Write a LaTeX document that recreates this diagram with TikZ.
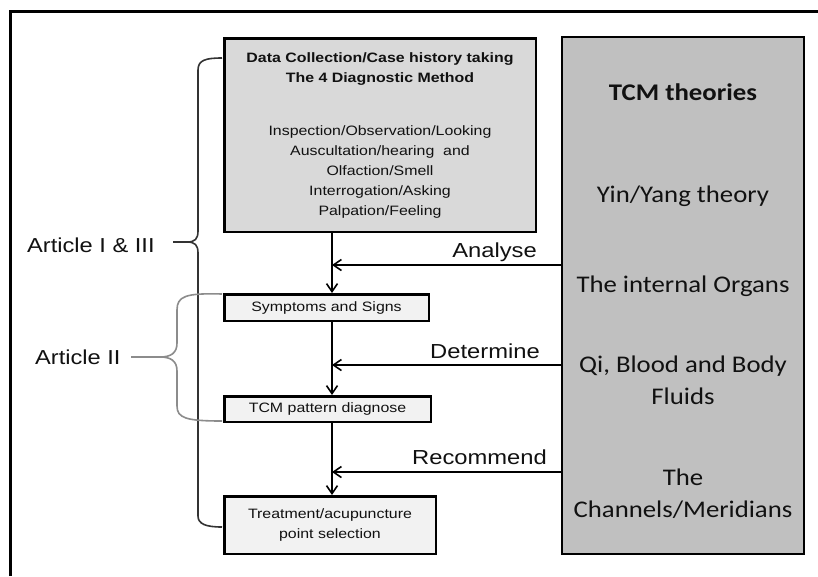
\documentclass[tikz,border=0pt]{standalone}
\usepackage{fontspec}
\setmainfont{Liberation Sans}[FakeStretch=1.17]
\newfontfamily\calw{Carlito}[FakeStretch=1.12]
\usetikzlibrary{arrows.meta}
\definecolor{boxtop}{HTML}{D9D9D9}
\definecolor{boxsmall}{HTML}{F2F2F2}
\definecolor{boxtheory}{HTML}{C0C0C0}
\definecolor{bracedark}{HTML}{333333}
\definecolor{bracegray}{HTML}{8C8C8C}
\definecolor{txt}{HTML}{111111}
\begin{document}
\begin{tikzpicture}[x=1pt,y=-1pt,
  flowbox/.style={draw=black, line width=2.5pt, inner sep=0pt, text=txt,
    font=\fontsize{13.6}{20}\selectfont, align=center},
  theorybox/.style={draw=black, line width=2pt, fill=boxtheory, inner sep=0pt},
  theorytxt/.style={anchor=base, inner sep=0pt, text=txt, font=\calw\fontsize{23.9}{32}\selectfont},
  arrlabel/.style={anchor=base east, inner sep=0pt, text=txt, font=\fontsize{20.3}{24}\selectfont},
  artlabel/.style={anchor=base west, inner sep=0pt, text=txt, font=\fontsize{20.2}{24}\selectfont},
  arr/.style={line width=1.6pt, draw=black, -{Straight Barb[length=8pt,width=11pt,line width=1.6pt]}},
  bracebig/.style={line width=1.6pt, draw=bracedark},
  bracesmall/.style={line width=1.6pt, draw=bracegray}
]
\useasboundingbox (0,0) rectangle (818,576);
\fill[white] (0,0) rectangle (818,576);
% outer frame (only left and top visible)
\draw[line width=2.5pt, black] (10.5,576) -- (10.5,11.3) -- (818,11.3);

% flow boxes
\node[flowbox, fill=boxtop, minimum width=311.5pt, minimum height=193.5pt] (top) at (380,135) {};
\node[text=txt, inner sep=0pt, align=center, font=\fontsize{13.6}{20}\selectfont] (toptxt) at (380,135.5)
  {\textbf{Data Collection/Case history taking}\\
   \textbf{The 4 Diagnostic Method}\\[33pt]
   Inspection/Observation/Looking\\
   Auscultation/hearing\ \ and\\
   Olfaction/Smell\\
   Interrogation/Asking\\
   Palpation/Feeling};
\node[flowbox, fill=boxsmall, minimum width=204.5pt, minimum height=26.5pt] (sym) at (326.5,307.5) {Symptoms and Signs};
\node[flowbox, fill=boxsmall, minimum width=206.5pt, minimum height=25.5pt] (tcm) at (327.5,409) {TCM pattern diagnose};
\node[flowbox, fill=boxsmall, minimum width=211.5pt, minimum height=57.5pt] (treat) at (330,525) {Treatment/acupuncture\\point selection};

% theory box
\node[theorybox, minimum width=242pt, minimum height=517pt] (gray) at (683,295.5) {};
\node[theorytxt] (t1) at (683,100) {\bfseries TCM theories};
\node[theorytxt] (t2) at (683,202) {Yin/Yang theory};
\node[theorytxt] (t3) at (683,292) {The internal Organs};
\node[theorytxt] (t4a) at (683,372) {Qi, Blood and Body};
\node[theorytxt] (t4b) at (683,404) {Fluids};
\node[theorytxt] (t5a) at (683,485) {The};
\node[theorytxt] (t5b) at (683,517) {Channels/Meridians};

% spine and arrow rows
\coordinate (spine) at (332,0);
\coordinate (ya) at (0,265);
\coordinate (yd) at (0,365);
\coordinate (yr) at (0,472);
\draw[arr] (top.south -| spine) -- (sym.north -| spine);
\draw[arr] (sym.south -| spine) -- (tcm.north -| spine);
\draw[arr] (tcm.south -| spine) -- (treat.north -| spine);
\draw[arr] (gray.west |- ya) -- (spine |- ya);
\draw[arr] (gray.west |- yd) -- (spine |- yd);
\draw[arr] (gray.west |- yr) -- (spine |- yr);
\node[arrlabel] (lA) at (537,257) {Analyse};
\node[arrlabel] (lD) at (540,358) {Determine};
\node[arrlabel] (lR) at (547,464) {Recommend};

% braces
\node[artlabel] (art13) at (27,252) {Article I \& III};
\node[artlabel] (art2) at (35,364) {Article II};
\coordinate (bigtip) at (173,242);
\coordinate (smalltip) at (131,357);
\draw[bracebig] (222,58) .. controls (206,58) and (198,60) .. (198,70) -- (198,231)
  .. controls (198,239) and (195,242) .. (187,242) -- (bigtip);
\draw[bracebig] (187,242) .. controls (195,242) and (198,245) .. (198,253) -- (198,516)
  .. controls (198,524) and (206,527) .. (222,527);
\draw[bracesmall] (222,294) .. controls (186,293) and (177,296) .. (177,310) -- (177,343)
  .. controls (177,353) and (171,357) .. (160,357) -- (smalltip);
\draw[bracesmall] (160,357) .. controls (171,357) and (177,361) .. (177,371) -- (177,406)
  .. controls (177,418) and (186,421) .. (222,421);
\end{tikzpicture}
\end{document}
